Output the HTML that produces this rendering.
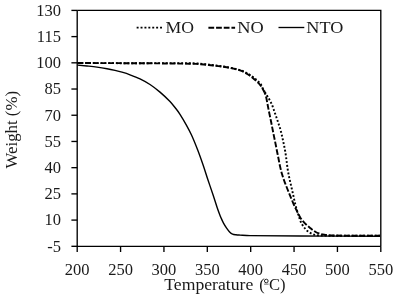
<!DOCTYPE html>
<html><head><meta charset="utf-8"><style>
html,body{margin:0;padding:0;background:#fff;width:396px;height:299px;overflow:hidden;font-family:"Liberation Serif",serif;}
svg{display:block;will-change:transform}
</style></head><body>
<svg width="396" height="299" viewBox="0 0 396 299">
<rect width="396" height="299" fill="#fff"/>
<g fill="none" stroke="#000" stroke-linejoin="round">
<path d="M77.50,65.10 C80.67,65.40 83.84,65.68 87.00,66.00 C90.34,66.34 93.68,66.65 97.00,67.10 C100.34,67.55 103.68,68.09 107.00,68.70 C109.68,69.19 112.35,69.78 115.00,70.40 C117.35,70.95 119.69,71.52 122.00,72.20 C124.69,72.99 127.37,73.82 130.00,74.80 C133.37,76.06 136.76,77.33 140.00,78.90 C143.43,80.56 146.82,82.40 150.00,84.50 C153.49,86.80 156.81,89.39 160.00,92.10 C163.48,95.06 166.84,98.20 170.00,101.50 C172.17,103.77 174.06,106.32 176.00,108.80 C177.40,110.59 178.78,112.39 180.00,114.30 C182.15,117.66 184.16,121.11 186.10,124.60 C188.00,128.01 189.88,131.45 191.50,135.00 C193.75,139.92 195.75,144.96 197.70,150.00 C199.62,154.96 201.37,159.97 203.10,165.00 C204.81,169.97 206.34,175.01 208.00,180.00 C209.67,185.01 211.44,189.99 213.10,195.00 C214.54,199.32 215.85,203.68 217.30,208.00 C217.89,209.75 218.54,211.48 219.20,213.20 C219.81,214.81 220.41,216.42 221.10,218.00 C221.85,219.72 222.60,221.45 223.50,223.10 C224.44,224.82 225.48,226.49 226.60,228.10 C227.52,229.42 228.47,230.77 229.60,231.90 C230.47,232.77 231.50,233.60 232.60,234.10 C233.63,234.57 234.86,234.65 236.00,234.80 C237.32,234.98 238.67,235.02 240.00,235.10 C243.33,235.29 246.66,235.55 250.00,235.60 C266.66,235.85 283.33,235.92 300.00,236.00 C326.67,236.12 353.33,236.13 380.00,236.20" stroke-width="1.4"/>
<path d="M77.50,63.05 C85.00,63.07 92.50,63.08 100.00,63.10 C110.00,63.13 120.00,63.19 130.00,63.20 C140.00,63.21 150.00,63.15 160.00,63.14 C166.67,63.14 173.33,63.09 180.00,63.15 C185.43,63.20 190.87,63.24 196.30,63.45 C198.81,63.54 201.30,63.81 203.80,64.05 C206.14,64.27 208.47,64.55 210.80,64.84 C213.34,65.15 215.87,65.49 218.40,65.85 C221.17,66.24 223.94,66.59 226.69,67.07 C229.13,67.50 231.57,67.99 233.98,68.58 C236.81,69.27 239.72,69.84 242.42,70.90 C245.00,71.91 247.42,73.38 249.82,74.80 C251.25,75.65 252.58,76.68 253.90,77.70 C255.08,78.61 256.21,79.59 257.30,80.60 C258.47,81.69 259.79,82.71 260.70,84.00 C261.49,85.11 261.77,86.57 262.40,87.80 C263.10,89.17 263.92,90.48 264.70,91.80" stroke-width="1.92" stroke-dasharray="1.92 1.92"/>
<path d="M264.70,91.80 C265.45,93.08 266.24,94.33 267.00,95.60 C267.91,97.13 268.84,98.64 269.70,100.20 C270.44,101.54 271.20,102.89 271.80,104.30 C272.50,105.92 273.01,107.63 273.60,109.30 C274.11,110.73 274.60,112.17 275.10,113.60 C275.50,114.73 275.91,115.86 276.30,117.00 C276.71,118.16 277.11,119.33 277.50,120.50 C277.94,121.83 278.37,123.17 278.80,124.50 C279.27,125.93 279.79,127.35 280.20,128.80 C280.79,130.85 281.30,132.92 281.80,135.00 C282.34,137.26 282.81,139.53 283.30,141.80 C283.71,143.70 284.13,145.59 284.50,147.50 C284.83,149.16 285.13,150.83 285.40,152.50 C285.70,154.33 285.95,156.16 286.20,158.00 C286.45,159.83 286.66,161.67 286.90,163.50 C287.19,165.67 287.45,167.84 287.80,170.00 C288.15,172.17 288.56,174.34 289.00,176.50 C289.43,178.61 289.92,180.70 290.40,182.80 C290.86,184.80 291.34,186.80 291.80,188.80 C292.27,190.86 292.74,192.93 293.20,195.00 C293.64,197.00 294.04,199.01 294.50,201.00 C294.97,203.01 295.45,205.01 296.00,207.00 C296.65,209.35 297.36,211.68 298.10,214.00 C298.89,216.48 299.66,218.98 300.60,221.40 C301.03,222.51 301.58,223.58 302.20,224.60 C302.92,225.78 303.73,226.92 304.60,228.00 C305.37,228.95 306.17,229.91 307.10,230.70 C308.21,231.64 309.43,232.49 310.70,233.20 C311.80,233.82 312.99,234.35 314.20,234.70 C315.49,235.08 316.85,235.31 318.20,235.40 C322.12,235.65 326.07,235.67 330.00,235.70 C346.67,235.81 363.33,235.77 380.00,235.80" stroke-width="1.92" stroke-dasharray="1.92 1.92" stroke-dashoffset="195.59"/>
<path d="M77.50,63.05 C85.00,63.07 92.50,63.08 100.00,63.10 C110.00,63.13 120.00,63.15 130.00,63.20 C140.00,63.25 150.00,63.32 160.00,63.40 C166.67,63.45 173.33,63.51 180.00,63.60 C185.43,63.67 190.87,63.69 196.30,63.90 C198.81,63.99 201.30,64.28 203.80,64.50 C206.14,64.71 208.47,64.94 210.80,65.20 C213.34,65.48 215.87,65.78 218.40,66.10 C221.14,66.45 223.88,66.75 226.60,67.20 C228.91,67.58 231.22,68.03 233.50,68.60 C236.19,69.27 238.95,69.85 241.50,70.90 C243.95,71.91 246.23,73.40 248.50,74.80 C249.90,75.66 251.20,76.68 252.50,77.70 C253.67,78.62 254.81,79.59 255.90,80.60 C257.07,81.69 258.26,82.78 259.30,84.00 C260.40,85.28 261.41,86.66 262.30,88.10 C263.14,89.46 263.87,90.92 264.50,92.40" stroke-width="1.92" stroke-dasharray="5.76 1.92"/>
<path d="M264.50,92.40 C265.14,93.89 265.69,95.43 266.10,97.00 C266.66,99.13 266.98,101.33 267.40,103.50 C267.84,105.76 268.25,108.04 268.70,110.30 C269.08,112.20 269.50,114.10 269.90,116.00 C270.30,117.90 270.72,119.80 271.10,121.70 C271.55,123.93 271.96,126.17 272.40,128.40 C272.93,131.07 273.46,133.74 274.00,136.40 C274.46,138.64 274.95,140.86 275.40,143.10 C275.95,145.80 276.46,148.50 277.00,151.20 C277.46,153.47 277.94,155.73 278.40,158.00 C278.94,160.70 279.40,163.41 280.00,166.10 C280.60,168.78 281.23,171.46 282.00,174.10 C282.76,176.70 283.68,179.25 284.60,181.80 C285.48,184.22 286.45,186.61 287.40,189.00 C288.41,191.54 289.46,194.07 290.50,196.60 C291.43,198.87 292.32,201.16 293.30,203.40 C294.22,205.49 295.19,207.55 296.20,209.60 C297.49,212.22 298.70,214.91 300.20,217.40 C301.23,219.11 302.51,220.68 303.80,222.20 C304.64,223.18 305.64,224.03 306.60,224.90 C307.84,226.03 309.09,227.16 310.40,228.20 C311.95,229.43 313.51,230.68 315.20,231.70 C316.45,232.45 317.82,233.04 319.20,233.50 C320.85,234.04 322.58,234.43 324.30,234.70 C326.64,235.07 329.03,235.31 331.40,235.40 C337.59,235.64 343.80,235.65 350.00,235.70 C360.00,235.78 370.00,235.77 380.00,235.80" stroke-width="1.92" stroke-dasharray="5.76 1.92" stroke-dashoffset="195.33"/>
</g>
<g fill="none" stroke="#000" stroke-width="1.35">
<path d="M77.2,10.4 H380.8 V246.3"/>
<path d="M77.2,10.4 V246.3 H380.8"/>
<path d="M71.4,10.40 H77.2"/>
<path d="M71.4,36.61 H77.2"/>
<path d="M71.4,62.82 H77.2"/>
<path d="M71.4,89.03 H77.2"/>
<path d="M71.4,115.24 H77.2"/>
<path d="M71.4,141.46 H77.2"/>
<path d="M71.4,167.67 H77.2"/>
<path d="M71.4,193.88 H77.2"/>
<path d="M71.4,220.09 H77.2"/>
<path d="M71.4,246.30 H77.2"/>
<path d="M77.20,246.3 V252"/>
<path d="M120.57,246.3 V252"/>
<path d="M163.94,246.3 V252"/>
<path d="M207.31,246.3 V252"/>
<path d="M250.69,246.3 V252"/>
<path d="M294.06,246.3 V252"/>
<path d="M337.43,246.3 V252"/>
<path d="M380.80,246.3 V252"/>
</g>
<g font-family="Liberation Serif, serif" font-size="16.5" fill="#1a1a1a">
<text x="61" y="15.70" text-anchor="end">130</text>
<text x="61" y="41.91" text-anchor="end">115</text>
<text x="61" y="68.12" text-anchor="end">100</text>
<text x="61" y="94.33" text-anchor="end">85</text>
<text x="61" y="120.54" text-anchor="end">70</text>
<text x="61" y="146.76" text-anchor="end">55</text>
<text x="61" y="172.97" text-anchor="end">40</text>
<text x="61" y="199.18" text-anchor="end">25</text>
<text x="61" y="225.39" text-anchor="end">10</text>
<text x="61" y="251.60" text-anchor="end">-5</text>
<text x="77.20" y="274.6" text-anchor="middle">200</text>
<text x="120.57" y="274.6" text-anchor="middle">250</text>
<text x="163.94" y="274.6" text-anchor="middle">300</text>
<text x="207.31" y="274.6" text-anchor="middle">350</text>
<text x="250.69" y="274.6" text-anchor="middle">400</text>
<text x="294.06" y="274.6" text-anchor="middle">450</text>
<text x="337.43" y="274.6" text-anchor="middle">500</text>
<text x="380.80" y="274.6" text-anchor="middle">550</text>
<text x="164.30" y="289.8" textLength="89.00" lengthAdjust="spacingAndGlyphs">Temperature</text>
<text x="259.3" y="289.8">(</text>
<text x="268.90" y="289.8" textLength="16.60" lengthAdjust="spacingAndGlyphs">C)</text>
<ellipse cx="266.3" cy="281" rx="1.85" ry="1.8" fill="none" stroke="#1a1a1a" stroke-width="0.95"/>
<rect x="264.1" y="283.7" width="4.5" height="0.8" fill="#444"/>
<text transform="translate(17,168.50) rotate(-90)" textLength="77.50" lengthAdjust="spacingAndGlyphs">Weight (%)</text>
<text x="165.50" y="32.7" textLength="28.50" lengthAdjust="spacingAndGlyphs">MO</text>
<text x="237.30" y="32.7" textLength="26.50" lengthAdjust="spacingAndGlyphs">NO</text>
<text x="306.30" y="32.7" textLength="37.00" lengthAdjust="spacingAndGlyphs">NTO</text>
</g>
<g fill="none" stroke="#000">
<path d="M136.65,27.6 H162" stroke-width="1.9" stroke-dasharray="1.95 1.95"/>
<path d="M208.4,27.7 H235.1" stroke-width="2" stroke-dasharray="5.76 1.92"/>
<path d="M278.5,27.5 H304.3" stroke-width="1.35"/>
</g>
</svg>
</body></html>
